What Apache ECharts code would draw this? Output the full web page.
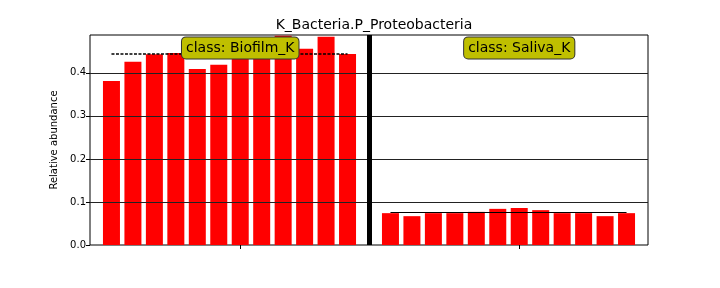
<!DOCTYPE html>
<html>
<head>
<meta charset="utf-8">
<script src="https://cdn.jsdelivr.net/npm/echarts@6/dist/echarts.min.js"></script>
<style>html,body{margin:0;padding:0;background:#fff;}#c{width:720px;height:288px;}</style>
</head>
<body>
<div id="c"></div>
<script>
const title = 'K_Bacteria.P_Proteobacteria';
const yName = 'Relative abundance';
const groupNames = ['Biofilm_K', 'Saliva_K'];
const biofilm = [0.381, 0.426, 0.443, 0.446, 0.409, 0.419, 0.472, 0.476, 0.486, 0.456, 0.484, 0.444];
const saliva = [0.074, 0.067, 0.074, 0.074, 0.077, 0.084, 0.086, 0.081, 0.074, 0.074, 0.067, 0.074];
const yTicks = [0.0, 0.1, 0.2, 0.3, 0.4];
const yMax = 0.488;
const annotY = 0.458;

const groups = [biofilm, saliva];
const offsets = [0, biofilm.length + 1];
const sepX = biofilm.length;
const xMax = offsets[1] + saliva.length;
const mean = a => a.reduce((s, v) => s + v, 0) / a.length;
const barData = [];
groups.forEach((g, gi) => g.forEach((v, i) => barData.push([offsets[gi] + i, v])));
const centers = groups.map((g, gi) => offsets[gi] + g.length / 2);

const font = 'DejaVu Sans';
const chart = echarts.init(document.getElementById('c'));
chart.setOption({
  animation: false,
  title: { text: title, left: 369, top: 13, textAlign: 'center',
    textStyle: { fontFamily: font, fontSize: 14, fontWeight: 'normal', color: '#000' } },
  grid: { left: 90, right: 72, top: 35, bottom: 43, show: true, borderColor: '#000', borderWidth: 1, backgroundColor: 'transparent' },
  xAxis: {
    type: 'value', min: -1, max: xMax, position: 'bottom',
    axisLine: { show: false, onZero: false },
    splitLine: { show: false },
    axisLabel: { show: false },
    axisTick: { show: true, length: 4, customValues: centers, lineStyle: { color: '#000' } }
  },
  yAxis: {
    type: 'value', min: 0, max: yMax, position: 'left',
    name: yName, nameLocation: 'middle', nameGap: 26,
    nameTextStyle: { fontFamily: font, fontSize: 10, color: '#000' },
    axisLine: { show: false, onZero: false },
    splitLine: { show: false },
    axisTick: { show: true, length: 4, customValues: yTicks, lineStyle: { color: '#000' } },
    axisLabel: { customValues: yTicks, formatter: v => v.toFixed(1), fontFamily: font, fontSize: 10, color: '#000', margin: 4 }
  },
  series: [
    {
      type: 'bar', data: barData, barWidth: 17, z: 2,
      itemStyle: { color: '#ff0000' },
      markLine: {
        silent: true, symbol: 'none', label: { show: false },
        data: [
          ...yTicks.slice(1).map(t => ({ yAxis: t, lineStyle: { color: '#222', width: 1, type: 'solid' } })),
          { xAxis: sepX, lineStyle: { color: '#000', width: 5, type: 'solid' } },
          [{ coord: [offsets[0], mean(biofilm)], lineStyle: { color: '#000', width: 1.5, type: [3, 1.5] } },
           { coord: [offsets[0] + biofilm.length - 1, mean(biofilm)] }],
          [{ coord: [offsets[1], mean(saliva)], lineStyle: { color: '#000', width: 1.2, type: 'solid' } },
           { coord: [offsets[1] + saliva.length - 1, mean(saliva)] }]
        ]
      }
    },
    {
      type: 'scatter', z: 10, symbolSize: 0,
      itemStyle: { opacity: 1 },
      data: centers.map((c, i) => ({ value: [c, annotY], name: 'class: ' + groupNames[i] })),
      label: {
        show: true, position: 'inside', formatter: p => p.name, opacity: 1,
        fontFamily: font, fontSize: 14, color: '#000',
        backgroundColor: '#bfbf00', borderColor: '#333', borderWidth: 1, borderRadius: 4,
        padding: [4, 4, 3, 4]
      }
    }
  ]
});
</script>
</body>
</html>
